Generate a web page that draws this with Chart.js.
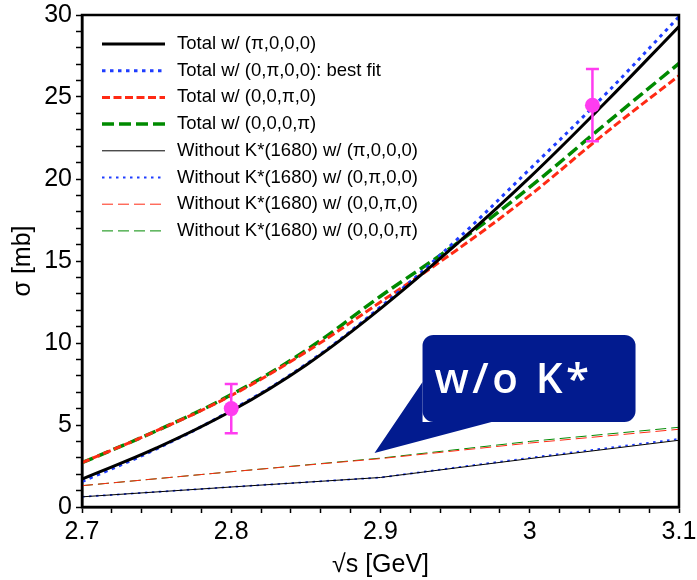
<!DOCTYPE html>
<html>
<head>
<meta charset="utf-8">
<script src="https://cdn.jsdelivr.net/npm/chart.js@4.4.0/dist/chart.umd.min.js"></script>
<style>
  html, body { margin: 0; padding: 0; background: #fff; }
</style>
</head>
<body>
<canvas id="chart" width="697" height="580"></canvas>
<script>
/* ── cross section vs sqrt(s) ── */

// thick curves (total), read at 0.05 GeV steps
const S_FINE      = [2.70, 2.75, 2.80, 2.85, 2.90, 2.95, 3.00, 3.05, 3.10];
const TOTAL_PI000 = [1.70, 3.60, 5.85, 8.65, 12.10, 15.95, 20.10, 24.60, 29.30];
const TOTAL_0PI00 = [1.55, 3.55, 5.90, 8.70, 12.20, 16.20, 20.60, 25.10, 29.90];
const TOTAL_00PI0 = [2.70, 4.65, 6.80, 9.45, 12.50, 15.60, 19.00, 22.75, 26.30];
const TOTAL_000PI = [2.70, 4.65, 6.85, 9.55, 12.85, 16.00, 19.50, 23.30, 27.05];

// thin curves (without K*(1680))
const S_COARSE  = [2.7, 2.8, 2.9, 3.0, 3.1];
const NOK_PI000 = [0.62, 1.22, 1.80, 2.95, 4.07];
const NOK_0PI00 = [0.62, 1.22, 1.80, 3.00, 4.15];
const NOK_00PI0 = [1.30, 2.15, 2.95, 3.90, 4.74];
const NOK_000PI = [1.30, 2.15, 2.98, 4.00, 4.86];

// measured points
const EXP_S     = [2.80, 3.042];
const EXP_SIGMA = [6.0, 24.5];
const EXP_ERR   = [1.5, 2.2];

const X_LABELS = [2.7, 2.8, 2.9, 3.0, 3.1];
const Y_LABELS = [0, 5, 10, 15, 20, 25, 30];

const CALLOUT_TIP  = [2.896, 3.3];
const CALLOUT_TEXT = 'w/o K*';

const BLACK = '#000000';
const BLUE  = '#1f3dff';
const RED   = '#ff2a14';
const GREEN = '#008a00';
const MAGENTA = '#ff3cf0';
const NAVY = '#021b8f';

const FONT = '"Liberation Sans", Arial, Helvetica, sans-serif';

function pts(xs, ys) {
  return xs.map((x, i) => ({ x, y: ys[i] }));
}

function curve(label, xs, ys, color, width, dash, smooth) {
  return {
    label, data: pts(xs, ys), inLegend: true,
    borderColor: color, backgroundColor: color,
    borderWidth: width, borderDash: dash,
    pointRadius: 0, fill: false,
    tension: smooth ? 0.4 : 0
  };
}

function isLabel(v, list) {
  return list.some(t => Math.abs(t - v) < 1e-6);
}

/* legend drawn inside the plot area */
const insideLegend = {
  id: 'insideLegend',
  afterDatasetsDraw(chart) {
    const { ctx, chartArea: a } = chart;
    const items = chart.data.datasets.filter(d => d.inLegend);
    ctx.save();
    ctx.font = '18.5px ' + FONT;
    ctx.textBaseline = 'middle';
    items.forEach((d, i) => {
      const y = a.top + 29 + i * 26.7;
      ctx.beginPath();
      ctx.setLineDash(d.borderDash || []);
      ctx.lineWidth = d.borderWidth;
      ctx.strokeStyle = d.borderColor;
      ctx.moveTo(a.left + 20, y);
      ctx.lineTo(a.left + 83, y);
      ctx.stroke();
      ctx.setLineDash([]);
      ctx.fillStyle = '#000';
      ctx.fillText(d.label, a.left + 95, y);
    });
    ctx.restore();
  }
};

/* vertical error bars on the measured points */
const errorBars = {
  id: 'errorBars',
  afterDatasetsDraw(chart) {
    const { ctx, scales: { x, y } } = chart;
    ctx.save();
    ctx.strokeStyle = MAGENTA;
    ctx.lineWidth = 2.5;
    EXP_S.forEach((s, i) => {
      const px = x.getPixelForValue(s);
      const top = y.getPixelForValue(EXP_SIGMA[i] + EXP_ERR[i]);
      const bot = y.getPixelForValue(EXP_SIGMA[i] - EXP_ERR[i]);
      ctx.beginPath();
      ctx.moveTo(px, top); ctx.lineTo(px, bot);
      ctx.moveTo(px - 6.5, top); ctx.lineTo(px + 6.5, top);
      ctx.moveTo(px - 6.5, bot); ctx.lineTo(px + 6.5, bot);
      ctx.stroke();
    });
    ctx.restore();
  }
};

/* speech-bubble annotation pointing at the thin curves */
const callout = {
  id: 'callout',
  afterDatasetsDraw(chart) {
    const { ctx, scales: { x, y } } = chart;
    const tx = x.getPixelForValue(CALLOUT_TIP[0]);
    const ty = y.getPixelForValue(CALLOUT_TIP[1]);
    const bx = tx + 48, by = ty - 118, bw = 213, bh = 87, r = 11;
    ctx.save();
    ctx.fillStyle = NAVY;
    ctx.beginPath();
    ctx.roundRect(bx, by, bw, bh, r);
    ctx.fill();
    ctx.beginPath();
    ctx.moveTo(bx, by + 47);
    ctx.lineTo(tx, ty);
    ctx.lineTo(bx + 69, by + bh);
    ctx.lineTo(bx, by + bh);
    ctx.closePath();
    ctx.fill();
    ctx.fillStyle = '#fff';
    ctx.font = '600 42px "Open Sans", sans-serif';
    ctx.letterSpacing = '3.5px';
    ctx.textBaseline = 'alphabetic';
    ctx.fillText(CALLOUT_TEXT, bx + 12, by + 58);
    ctx.restore();
  }
};

/* full black frame round the plot */
const frame = {
  id: 'frame',
  afterDraw(chart) {
    const { ctx, chartArea: a } = chart;
    ctx.save();
    ctx.lineWidth = 2.5;
    ctx.strokeStyle = '#000';
    ctx.strokeRect(a.left, a.top, a.right - a.left, a.bottom - a.top);
    ctx.restore();
  }
};

const datasets = [
  {
    label: 'data', type: 'line', data: pts(EXP_S, EXP_SIGMA), showLine: false,
    pointRadius: 7.5, pointBackgroundColor: MAGENTA, pointBorderWidth: 0,
    borderColor: MAGENTA
  },
  curve('Total w/ (\u03c0,0,0,0)', S_FINE, TOTAL_PI000, BLACK, 3, [], true),
  curve('Total w/ (0,\u03c0,0,0): best fit', S_FINE, TOTAL_0PI00, BLUE, 3, [3.5, 4.5], true),
  curve('Total w/ (0,0,\u03c0,0)', S_FINE, TOTAL_00PI0, RED, 3, [8, 3.5], true),
  curve('Total w/ (0,0,0,\u03c0)', S_FINE, TOTAL_000PI, GREEN, 3.5, [12, 5], true),
  curve('Without K*(1680) w/ (\u03c0,0,0,0)', S_COARSE, NOK_PI000, BLACK, 1, [], false),
  curve('Without K*(1680) w/ (0,\u03c0,0,0)', S_COARSE, NOK_0PI00, BLUE, 1.8, [2.5, 4.5], false),
  curve('Without K*(1680) w/ (0,0,\u03c0,0)', S_COARSE, NOK_00PI0, RED, 1, [11, 5], false),
  curve('Without K*(1680) w/ (0,0,0,\u03c0)', S_COARSE, NOK_000PI, GREEN, 1, [11, 5], false)
];

new Chart(document.getElementById('chart'), {
  type: 'line',
  data: { datasets },
  plugins: [insideLegend, errorBars, callout, frame],
  options: {
    responsive: false,
    animation: false,
    layout: { padding: { left: 0, right: 18, top: 15, bottom: 0 } },
    plugins: { legend: { display: false }, tooltip: { enabled: false } },
    scales: {
      x: {
        type: 'linear', min: 2.7, max: 3.1,
        afterFit: s => { s.height = 73; s.paddingRight = 0; s.paddingLeft = 0; },
        border: { color: '#000', width: 2.5 },
        grid: { drawOnChartArea: false, tickLength: 6, tickColor: '#000', tickWidth: 1.5 },
        ticks: {
          stepSize: 0.02, autoSkip: false, maxRotation: 0, padding: 4,
          color: '#000', font: { family: FONT, size: 25 },
          callback: v => isLabel(v, X_LABELS) ? String(+v.toFixed(1)) : ''
        },
        title: {
          display: true, text: '\u221As [GeV]', color: '#000',
          font: { family: FONT, size: 25 }, padding: { top: 0, bottom: 0 }
        }
      },
      y: {
        type: 'linear', min: 0, max: 30,
        afterFit: s => { s.width = 82; s.paddingTop = 0; s.paddingBottom = 0; },
        border: { color: '#000', width: 2.5 },
        grid: { drawOnChartArea: false, tickLength: 6, tickColor: '#000', tickWidth: 1.5 },
        ticks: {
          stepSize: 1, autoSkip: false, padding: 4,
          color: '#000', font: { family: FONT, size: 25 },
          callback: v => isLabel(v, Y_LABELS) ? String(v) : ''
        },
        title: {
          display: true, text: '\u03c3 [mb]', color: '#000',
          font: { family: FONT, size: 25 }, padding: { top: 8, bottom: 0 }
        }
      }
    }
  }
});
</script>
</body>
</html>
